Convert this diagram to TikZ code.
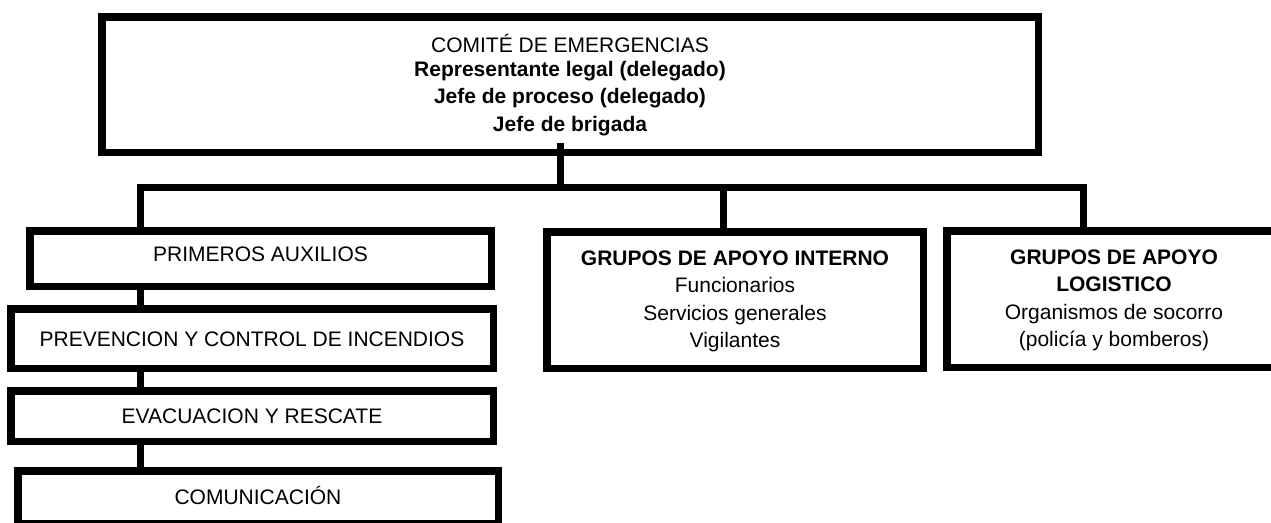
\documentclass[tikz,border=0pt]{standalone}
\usepackage{fontspec}
\setmainfont{Liberation Sans}
\newcommand\stacklines[1]{\vtop{\baselineskip=27.5pt\lineskiplimit=-100pt\halign{\hfil##\hfil\cr#1\crcr}}}
\tikzset{
  box/.style={draw=black, line width=7.5pt, rectangle, inner sep=0pt, outer sep=0pt,
    font=\fontsize{21pt}{27pt}\selectfont, text height=15pt, text depth=0pt},
  conn/.style={draw=black, line width=7pt},
}
\begin{document}
\begin{tikzpicture}[x=1pt,y=-1pt]
\useasboundingbox (0,0) rectangle (1271,522);
\fill[white] (0,0) rectangle (1271,522);

\node[box, minimum width=936.5pt, minimum height=135.5pt, text depth=80pt] (comite) at (570,84.5)
  {\stacklines{COMITÉ DE EMERGENCIAS\cr\noalign{\vskip-3.5pt}\bfseries Representante legal (delegado)\cr\bfseries Jefe de proceso (delegado)\cr\bfseries Jefe de brigada}};

\node[box, minimum width=461.5pt, minimum height=55.5pt, text depth=10pt] (prim) at (260.5,258.5) {PRIMEROS AUXILIOS};
\node[box, minimum width=482.5pt, minimum height=59.5pt] (prev) at (252,338.5) {PREVENCION Y CONTROL DE INCENDIOS};
\node[box, minimum width=482.5pt, minimum height=50.5pt] (evac) at (252,416) {EVACUACION Y RESCATE};
\node[box, minimum width=480.5pt, minimum height=53pt] (comu) at (258,497.25) {COMUNICACIÓN};

\node[box, minimum width=376.5pt, minimum height=136.5pt, text depth=85pt] (interno) at (735,300)
  {\stacklines{\bfseries GRUPOS DE APOYO INTERNO\cr Funcionarios\cr Servicios generales\cr Vigilantes}};
\node[box, minimum width=334.5pt, minimum height=136.5pt, text depth=85pt] (logist) at (1114,299)
  {\stacklines{\bfseries GRUPOS DE APOYO\cr\bfseries LOGISTICO\cr Organismos de socorro\cr (policía y bomberos)}};

\coordinate (hub) at (560,187);
\coordinate (bl) at (140,187);
\coordinate (bi) at (723,187);
\coordinate (br) at (1083,187);

\draw[conn] ([yshift=9pt]comite.south -| hub) -- (hub);
\draw[conn] (prim.north -| bl) -- (bl) -- (br) -- (logist.north -| br);
\draw[conn] (bi) -- (interno.north -| bi);
\draw[conn] (prim.south -| bl) -- (prev.north -| bl);
\draw[conn] (prev.south -| bl) -- (evac.north -| bl);
\draw[conn] (evac.south -| bl) -- (comu.north -| bl);
\end{tikzpicture}
\end{document}
